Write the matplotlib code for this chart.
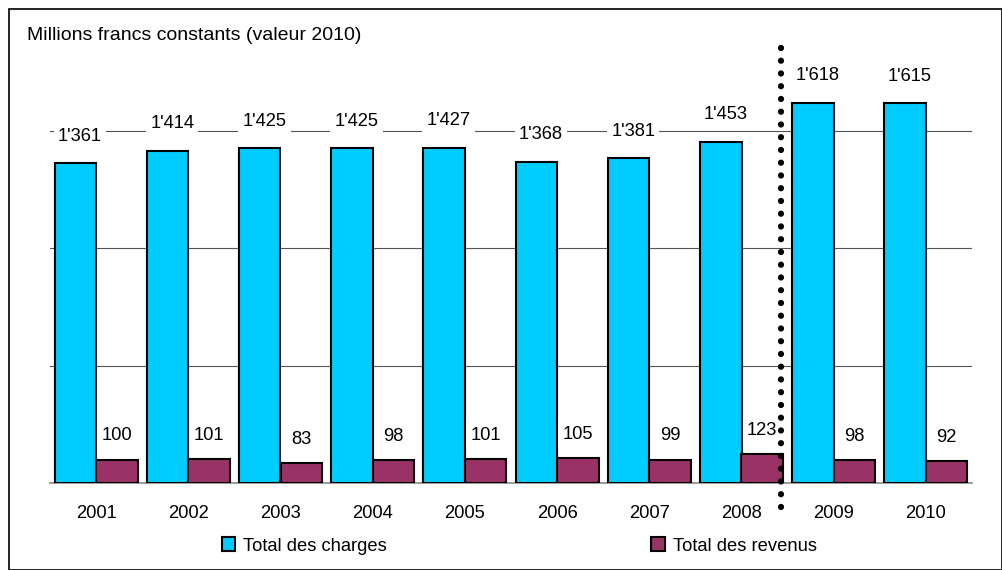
import matplotlib.pyplot as plt
import numpy as np
from matplotlib.patches import Rectangle

plt.rcParams['font.family'] = ['Liberation Sans', 'DejaVu Sans']

# data
years = ['2001', '2002', '2003', '2004', '2005', '2006', '2007', '2008', '2009', '2010']
charges = [1361, 1414, 1425, 1425, 1427, 1368, 1381, 1453, 1618, 1615]
revenus = [100, 101, 83, 98, 101, 105, 99, 123, 98, 92]

cyan = '#00CCFF'
maroon = '#993366'
fs = 13.2

fig = plt.figure(figsize=(10.03, 5.70), dpi=100)
ax = fig.add_axes([50 / 1003, 1 - 483 / 570, 922 / 1003, 470 / 570])

x = np.arange(len(years))
w = 0.45
ax.bar(x - w / 2, charges, w, color=cyan, edgecolor='black', linewidth=1.5,
       label='Total des charges', zorder=3)
ax.bar(x + w / 2, revenus, w, color=maroon, edgecolor='black', linewidth=1.5,
       label='Total des revenus', zorder=3)

box = dict(facecolor='white', edgecolor='none', pad=3)
for xi, v in zip(x, charges):
    s = f"{v:,}".replace(',', "'")
    ax.text(xi - w / 2 + 0.05, v + 78, s, ha='center', va='bottom', fontsize=fs,
            bbox=box, zorder=4)
for xi, v in zip(x, revenus):
    ax.text(xi + w / 2, v + 65, str(v), ha='center', va='bottom', fontsize=fs,
            bbox=box, zorder=4)

ax.set_xlim(-0.5, len(years) - 0.5)
ax.set_ylim(0, 2000)
ax.set_yticks([500, 1000, 1500])
ax.yaxis.grid(True, color='#555555', linewidth=0.8, zorder=0)
ax.tick_params(axis='y', length=0, labelleft=False)
ax.tick_params(axis='x', length=0, pad=16, labelsize=fs)
ax.set_xticks(x)
ax.set_xticklabels(years)
for side in ['top', 'right', 'left']:
    ax.spines[side].set_visible(False)
ax.spines['bottom'].set_color('#888888')
ax.spines['bottom'].set_linewidth(1.2)

# dotted separator between 2008 and 2009
ax.plot([7.43, 7.43], [-0.05, 0.935], transform=ax.get_xaxis_transform(),
        linestyle=(0, (0.01, 2.03)), dash_capstyle='round', color='black',
        linewidth=4.5, clip_on=False, zorder=5)

fig.text(27 / 1003, 1 - 36 / 570, 'Millions francs constants (valeur 2010)',
         fontsize=14, va='center', ha='left')

h1 = Rectangle((0, 0), 1, 1, facecolor=cyan, edgecolor='black', linewidth=1.5)
h2 = Rectangle((0, 0), 1, 1, facecolor=maroon, edgecolor='black', linewidth=1.5)
fig.legend([h1], ['Total des charges'], loc='center', bbox_to_anchor=(304 / 1003, 1 - 546 / 570),
           frameon=False, fontsize=fs, handlelength=0.75, handleheight=0.75, handletextpad=0.4)
fig.legend([h2], ['Total des revenus'], loc='center', bbox_to_anchor=(734 / 1003, 1 - 546 / 570),
           frameon=False, fontsize=fs, handlelength=0.75, handleheight=0.75, handletextpad=0.4)

fig.patches.append(Rectangle((9 / 1003, 0), 993 / 1003, 1 - 9 / 570, transform=fig.transFigure,
                             fill=False, edgecolor='black', linewidth=1.2))

plt.savefig('out.png', dpi=100)
